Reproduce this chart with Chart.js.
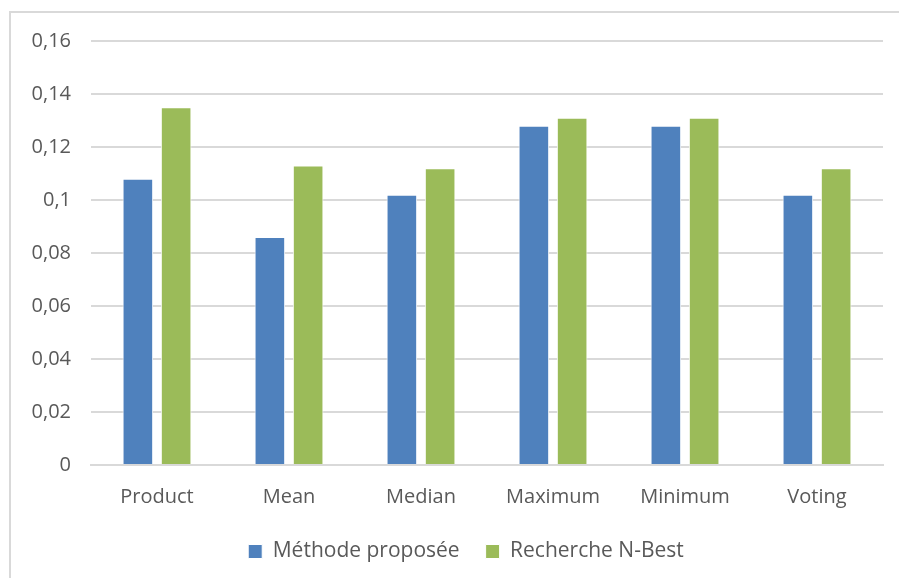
<!DOCTYPE html>
<html>
<head>
<meta charset="utf-8">
<script src="https://cdn.jsdelivr.net/npm/chart.js@4/dist/chart.umd.min.js"></script>
<style>
  html, body { margin: 0; padding: 0; background: #fff; }
  #frame {
    position: absolute; left: 9px; top: 11px;
    width: 890px; height: 567px;
    border-left: 2px solid #d9d9d9; border-top: 2px solid #d9d9d9;
    box-sizing: border-box;
  }
  #wrap { position: absolute; left: 0; top: 0; width: 888px; height: 565px; }
</style>
</head>
<body>
<div id="frame"><div id="wrap"><canvas id="c"></canvas></div></div>
<script>
const categories = ['Product', 'Mean', 'Median', 'Maximum', 'Minimum', 'Voting'];
const methodeProposee = [0.108, 0.086, 0.102, 0.128, 0.128, 0.102];
const rechercheNBest = [0.135, 0.113, 0.112, 0.131, 0.131, 0.112];
const seriesNames = ['Méthode proposée', 'Recherche N-Best'];
const yTicks = [0, 0.02, 0.04, 0.06, 0.08, 0.1, 0.12, 0.14, 0.16];

const textColor = '#595959';
const gridColor = '#d9d9d9';
const fontFamily = '"Open Sans", Lato, sans-serif';
const fontSize = 20;

// Nudge the legend a little to the right of the canvas centre.
const legendOffset = {
  id: 'legendOffset',
  afterLayout(chart) {
    const lg = chart.legend;
    if (!lg) return;
    const shift = 19;
    lg.left += shift;
    lg.right += shift;
    (lg.legendHitBoxes || []).forEach(b => { b.left += shift; });
  }
};

new Chart(document.getElementById('c'), {
  type: 'bar',
  data: {
    labels: categories,
    datasets: [
      { label: seriesNames[0], data: methodeProposee, backgroundColor: '#4f81bd',
        borderColor: '#ffffff', borderWidth: 1, borderSkipped: 'bottom' },
      { label: seriesNames[1], data: rechercheNBest, backgroundColor: '#9bbb59',
        borderColor: '#ffffff', borderWidth: 1, borderSkipped: 'bottom' }
    ]
  },
  plugins: [legendOffset],
  options: {
    responsive: true,
    maintainAspectRatio: false,
    animation: false,
    categoryPercentage: 0.58,
    barPercentage: 0.8,
    layout: { padding: { left: 0, right: 16, top: 28, bottom: 6 } },
    plugins: {
      tooltip: { enabled: false },
      legend: {
        position: 'bottom',
        labels: {
          color: textColor,
          font: { family: fontFamily, size: 21 },
          boxWidth: 14, boxHeight: 14, padding: 26,
          useBorderRadius: false
        }
      }
    },
    scales: {
      x: {
        grid: { display: false, drawTicks: false },
        border: { display: true, color: gridColor, width: 2 },
        ticks: { color: textColor, font: { family: fontFamily, size: fontSize }, padding: 20 },
        afterFit: (scale) => { scale.height = 50; }
      },
      y: {
        min: 0, max: 0.16,
        afterBuildTicks: (scale) => { scale.ticks = yTicks.map(v => ({ value: v })); },
        afterFit: (scale) => { scale.width = 80; scale.paddingTop = 0; scale.paddingBottom = 0; },
        grid: { color: gridColor, lineWidth: 2, drawTicks: false },
        border: { display: false },
        ticks: {
          color: textColor, font: { family: fontFamily, size: fontSize }, padding: 20,
          callback: (v) => String(Math.round(v * 100) / 100).replace('.', ',')
        }
      }
    }
  }
});
</script>
</body>
</html>
